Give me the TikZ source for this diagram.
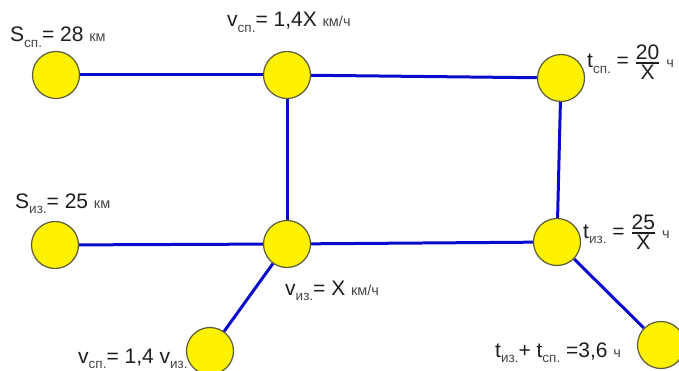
\documentclass[tikz,border=0pt]{standalone}
\usepackage{fontspec}
\setmainfont{Liberation Sans}
\usetikzlibrary{backgrounds}
\definecolor{linkblue}{RGB}{10,10,205}
\definecolor{dotedge}{RGB}{90,90,60}
\definecolor{txt}{RGB}{30,30,30}
\definecolor{subgray}{RGB}{70,70,70}
\newcommand\lowtxt[1]{\raisebox{-0.28em}{\fontsize{13.5}{13.5}\selectfont\color{subgray}#1}}
\newcommand\unittxt[1]{{\fontsize{14.5}{14.5}\selectfont\color{subgray}#1}}
\newcommand\fr[2]{${\displaystyle\hbox{#1}\above 1.8pt\hbox{#2}}$}
\begin{document}
\begin{tikzpicture}[x=1pt,y=-1pt,
  dot/.style={circle, draw=dotedge, fill=yellow, line width=1.2pt, minimum size=47pt, inner sep=0pt},
  link/.style={draw=linkblue, line width=3pt},
  lbl/.style={anchor=base west, inner sep=0pt, text=txt, font=\fontsize{21}{21}\selectfont}]
\useasboundingbox (0,0) rectangle (679,371);
\node[dot] (A) at (56,75) {};
\node[dot] (B) at (287,75) {};
\node[dot] (C) at (561,78) {};
\node[dot] (D) at (55,245) {};
\node[dot] (E) at (287,244) {};
\node[dot] (F) at (557,242) {};
\node[dot] (G) at (210,351) {};
\node[dot] (H) at (661,345) {};
\begin{pgfonlayer}{background}
\node[lbl] (lA) at (10,42) {S\lowtxt{сп.}= 28 \unittxt{км}};
\node[lbl] (lB) at (227,27) {v\lowtxt{сп.}= 1,4X \unittxt{км/ч}};
\node[lbl] (lC) at (587,68) {t\lowtxt{сп.} = \fr{20}{X} \unittxt{ч}};
\node[lbl] (lD) at (15,208) {S\lowtxt{из.}= 25 \unittxt{км}};
\node[lbl] (lF) at (583,238) {t\lowtxt{из.} = \fr{25}{X} \unittxt{ч}};
\node[lbl] (lE) at (285,295) {v\lowtxt{из.}= X \unittxt{км/ч}};
\node[lbl] (lG) at (78,363) {v\lowtxt{сп.}= 1,4 v\lowtxt{из.}};
\node[lbl] (lH) at (495,357) {t\lowtxt{из.}+ t\lowtxt{сп.} =3,6 \unittxt{ч}};
\draw[link] (A) -- (B);
\draw[link] (B) -- (C);
\draw[link] (B) -- (E);
\draw[link] (C) -- (F);
\draw[link] (D) -- (E);
\draw[link] (E) -- (F);
\draw[link] (E) -- (G);
\draw[link] (F) -- (H);
\end{pgfonlayer}
\end{tikzpicture}
\end{document}
